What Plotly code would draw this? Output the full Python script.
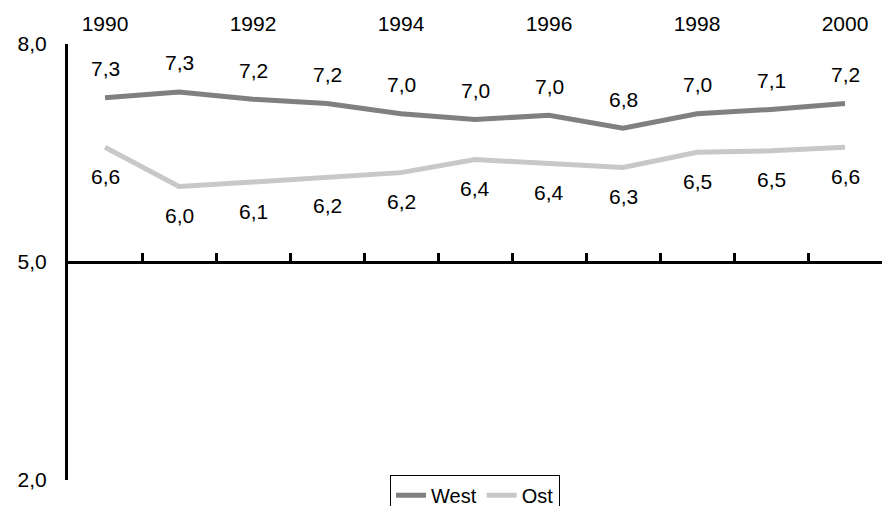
import plotly.graph_objects as go

years = [1990, 1991, 1992, 1993, 1994, 1995, 1996, 1997, 1998, 1999, 2000]
west = [7.26, 7.34, 7.24, 7.18, 7.04, 6.96, 7.02, 6.84, 7.04, 7.10, 7.18]
ost = [6.58, 6.04, 6.10, 6.17, 6.23, 6.41, 6.36, 6.30, 6.51, 6.53, 6.58]
year_labels = [1990, 1992, 1994, 1996, 1998, 2000]
y_ticks = [2, 5, 8]
tick_between = [y + 0.5 for y in years[:-1]]

FONT = "Liberation Sans, Arial, sans-serif"
WEST_C = "#808080"
OST_C = "#c8c8c8"

def fmt(v):
    return f"{v:.1f}".replace(".", ",")

fig = go.Figure()
fig.add_trace(go.Scatter(x=years, y=west, mode="lines", name="West",
                         line=dict(color=WEST_C, width=5), hoverinfo="skip"))
fig.add_trace(go.Scatter(x=years, y=ost, mode="lines", name="Ost",
                         line=dict(color=OST_C, width=5), hoverinfo="skip",
                         xaxis="x2"))

annotations = []
for x, v in zip(years, west):
    annotations.append(dict(x=x, y=v, xref="x", yref="y", text=fmt(v), showarrow=False,
                            yshift=29, font=dict(size=21, color="black", family=FONT)))
for x, v in zip(years, ost):
    annotations.append(dict(x=x, y=v, xref="x", yref="y", text=fmt(v), showarrow=False,
                            yshift=-29, font=dict(size=21, color="black", family=FONT)))

fig.update_layout(
    width=891, height=506,
    margin=dict(l=68, r=9, t=44, b=26, autoexpand=False),
    paper_bgcolor="white", plot_bgcolor="white",
    font=dict(family=FONT, size=21, color="black"),
    separators=",.",
    annotations=annotations,
    xaxis=dict(range=[1989.5, 2000.5], side="top", tickvals=year_labels,
               showline=False, ticks="", showgrid=False, zeroline=False,
               ticklabelstandoff=8, tickfont=dict(size=21)),
    xaxis2=dict(range=[1989.5, 2000.5], overlaying="x", anchor="free", position=0.5,
                side="bottom", showline=True, linewidth=3, linecolor="black",
                ticks="inside", ticklen=8, tickwidth=3, tickcolor="black",
                tickvals=tick_between, showticklabels=False, showgrid=False,
                zeroline=False),
    yaxis=dict(range=[2, 8], tickvals=y_ticks, tickformat=".1f", showline=True,
               linewidth=3, linecolor="black", ticks="", showgrid=False,
               zeroline=False, ticklabelstandoff=14, tickfont=dict(size=21)),
    legend=dict(orientation="h", x=0.5, xanchor="center", y=0.012, yanchor="top",
                bordercolor="black", borderwidth=1, bgcolor="white",
                font=dict(size=20), itemwidth=30, tracegroupgap=0),
    showlegend=True,
)

fig.write_html("out.html", config={"displayModeBar": False},
               post_script="document.body.style.margin='0';document.body.style.overflow='hidden';")
